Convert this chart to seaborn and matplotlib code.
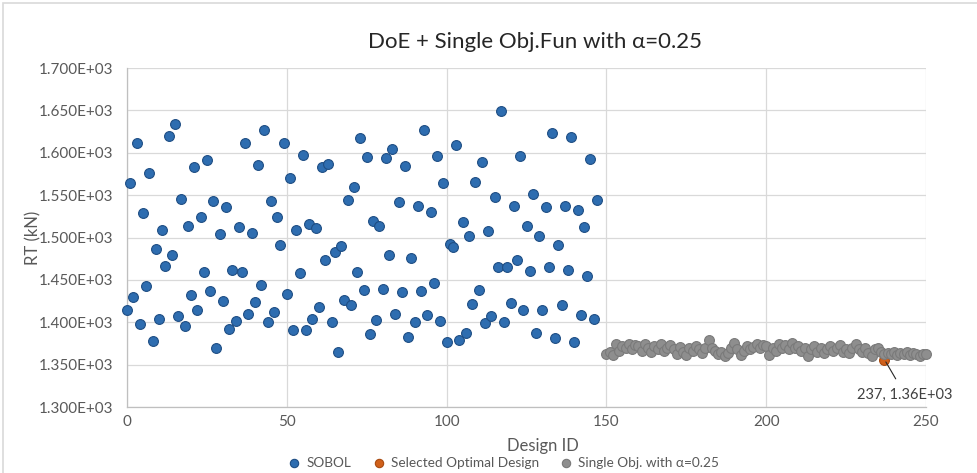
import matplotlib
matplotlib.use("Agg")
import matplotlib.pyplot as plt
import numpy as np
import pandas as pd
import seaborn as sns
from matplotlib.patches import Rectangle
from matplotlib.ticker import FuncFormatter, MultipleLocator

# RT (kN) of the SOBOL design of experiments, design IDs 0..147
sobol_rt = [
    1413.9, 1564.5, 1429.9, 1611.7, 1397.4, 1529.0, 1442.9, 1575.8, 1377.9, 1487.0,
    1403.9, 1509.1, 1466.2, 1619.5, 1479.2, 1633.8, 1406.9, 1545.0, 1395.2, 1513.4,
    1432.5, 1583.5, 1413.9, 1524.2, 1459.7, 1590.9, 1436.8, 1542.9, 1370.1, 1504.3,
    1424.7, 1536.4, 1392.6, 1461.9, 1401.7, 1512.6, 1459.7, 1611.7, 1410.0, 1505.2,
    1423.8, 1585.7, 1444.2, 1627.3, 1400.0, 1542.9, 1412.1, 1524.2, 1491.3, 1611.7,
    1433.8, 1570.1, 1390.9, 1509.1, 1457.6, 1597.4, 1390.9, 1516.5, 1403.9, 1511.3,
    1418.2, 1583.1, 1473.2, 1586.6, 1400.0, 1482.7, 1364.9, 1489.6, 1426.0, 1544.2,
    1420.3, 1559.3, 1459.7, 1616.9, 1438.1, 1594.4, 1386.1, 1519.9, 1403.0, 1513.4,
    1439.0, 1593.5, 1479.2, 1604.3, 1410.0, 1542.0, 1435.5, 1584.8, 1382.3, 1475.3,
    1400.0, 1536.8, 1436.4, 1627.3, 1408.2, 1529.9, 1445.9, 1596.5, 1400.9, 1564.5,
    1377.1, 1491.8, 1489.2, 1609.5, 1378.8, 1517.7, 1387.0, 1501.3, 1421.6, 1565.4,
    1438.1, 1589.6, 1398.7, 1508.2, 1406.9, 1547.2, 1464.9, 1649.8, 1400.0, 1464.9,
    1422.9, 1537.2, 1474.0, 1595.7, 1414.7, 1513.0, 1461.0, 1551.5, 1387.4, 1501.3,
    1413.9, 1535.5, 1464.9, 1623.8, 1381.8, 1491.3, 1420.3, 1537.2, 1461.9, 1618.6,
    1376.6, 1532.0, 1408.2, 1512.1, 1454.1, 1592.2, 1403.9, 1543.7,
]
sobol_id = list(range(len(sobol_rt)))

# single objective runs with alpha = 0.25, design IDs 150..250
single_rt = [
    1362.5, 1365.0, 1361.0, 1374.5, 1366.0, 1372.0, 1370.0, 1374.5, 1368.0, 1373.5,
    1372.0, 1366.0, 1374.0, 1370.0, 1365.0, 1372.5, 1369.0, 1374.0, 1366.5, 1370.0,
    1373.5, 1368.0, 1363.0, 1371.0, 1365.0, 1361.0, 1370.0, 1366.0, 1372.0, 1368.5,
    1364.0, 1370.0, 1378.5, 1370.0, 1366.0, 1362.0, 1365.0, 1360.0, 1363.5, 1370.0,
    1376.0, 1368.0, 1361.0, 1366.5, 1372.0, 1369.0, 1371.0, 1374.0, 1370.0, 1373.0,
    1371.5, 1361.0, 1370.0, 1366.0, 1374.5, 1370.0, 1373.0, 1369.0, 1375.5, 1370.0,
    1372.0, 1366.0, 1370.0, 1360.0, 1368.0, 1372.0, 1365.0, 1370.0, 1364.0, 1369.0,
    1372.0, 1366.0, 1370.0, 1373.5, 1365.0, 1369.0, 1364.0, 1370.0, 1374.0, 1369.0,
    1365.0, 1370.0, 1364.0, 1360.0, 1368.0, 1370.0, 1365.0, 1362.0, 1364.0, 1362.0,
    1365.0, 1361.5, 1364.0, 1362.0, 1365.0, 1361.0, 1364.0, 1362.0, 1360.0, 1363.0,
    1362.0,
]
single_id = list(range(150, 150 + len(single_rt)))

# selected optimum
opt_id = [237]
opt_rt = [1356.0]

title = "DoE + Single Obj.Fun with α=0.25"
series_names = ["SOBOL", "Selected Optimal Design", "Single Obj. with α=0.25"]

BLUE, BLUE_EDGE = "#2e6db0", "#1f4e84"
ORANGE, ORANGE_EDGE = "#d0601a", "#a84a10"
GRAY, GRAY_EDGE = "#8e8e8e", "#7a7a7a"
TEXT = "#595959"
GRID = "#d9d9d9"


def build_frame() -> pd.DataFrame:
    parts = [
        pd.DataFrame({"id": sobol_id, "rt": sobol_rt, "series": series_names[0]}),
        pd.DataFrame({"id": opt_id, "rt": opt_rt, "series": series_names[1]}),
        pd.DataFrame({"id": single_id, "rt": single_rt, "series": series_names[2]}),
    ]
    return pd.concat(parts, ignore_index=True)


def plot_chart(df: pd.DataFrame, save_path: str = "out.png") -> None:
    sns.set_theme(style="white")
    plt.rcParams["font.family"] = ["Lato", "DejaVu Sans"]

    fig = plt.figure(figsize=(9.78, 4.73), dpi=100)
    ax = fig.add_axes([127 / 978, 1 - 407 / 473, (926 - 127) / 978, (407 - 68) / 473])

    styles = {
        series_names[0]: (BLUE, BLUE_EDGE, 3),
        series_names[1]: (ORANGE, ORANGE_EDGE, 3),
        series_names[2]: (GRAY, GRAY_EDGE, 4),
    }
    for name, (face, edge, z) in styles.items():
        sub = df[df["series"] == name]
        sns.scatterplot(
            data=sub, x="id", y="rt", ax=ax, color=face, edgecolor=edge,
            linewidth=0.8, s=50, label=name, zorder=z, clip_on=False,
        )

    ax.set_xlim(0, 250)
    ax.set_ylim(1300, 1700)
    ax.xaxis.set_major_locator(MultipleLocator(50))
    ax.yaxis.set_major_locator(MultipleLocator(50))
    ax.yaxis.set_major_formatter(FuncFormatter(lambda v, _: f"{v / 1000:.3f}E+03"))
    ax.grid(True, color=GRID, linewidth=0.9)
    ax.set_axisbelow(True)
    for side in ["top", "right"]:
        ax.spines[side].set_visible(False)
    for side in ["left", "bottom"]:
        ax.spines[side].set_color("#bfbfbf")
        ax.spines[side].set_linewidth(0.9)
    ax.tick_params(axis="both", length=0, labelsize=11, colors=TEXT)
    ax.tick_params(axis="y", pad=10)
    ax.tick_params(axis="x", pad=6)

    ax.set_xlabel("Design ID", fontsize=12, color=TEXT)
    ax.xaxis.set_label_coords((543 - 127) / 799, -0.09)
    ax.set_ylabel("RT (kN)", fontsize=12, color=TEXT)
    ax.yaxis.set_label_coords((41 - 127) / 799, 0.5)
    fig.text(535 / 978, 1 - 42 / 473, title, ha="center", va="center",
             fontsize=16, color="#262626")

    ax.annotate(
        f"{opt_id[0]}, {opt_rt[0] / 1000:.2f}E+03",
        xy=(opt_id[0], opt_rt[0]), xytext=(243.5, 1314),
        ha="center", va="center", fontsize=10.5, color="#404040",
        arrowprops=dict(arrowstyle="-", color="#262626", lw=0.8,
                        shrinkA=5, shrinkB=2),
        annotation_clip=False,
    )

    ax.legend(
        loc="center", bbox_to_anchor=(500 / 978, 1 - 463 / 473),
        bbox_transform=fig.transFigure, ncol=3, frameon=False,
        fontsize=9.8, labelcolor=TEXT, handletextpad=-0.1, columnspacing=1.0,
        markerscale=0.85,
    )

    # excel style chart border
    fig.patches.append(Rectangle((3 / 978, -0.05), 1.2, 0.05 + 1 - 3 / 473,
                                 transform=fig.transFigure, fill=False,
                                 edgecolor="#d9d9d9", linewidth=1.2))

    fig.savefig(save_path, dpi=100)
    plt.close(fig)


def main() -> None:
    df = build_frame()
    plot_chart(df)


if __name__ == "__main__":
    main()
